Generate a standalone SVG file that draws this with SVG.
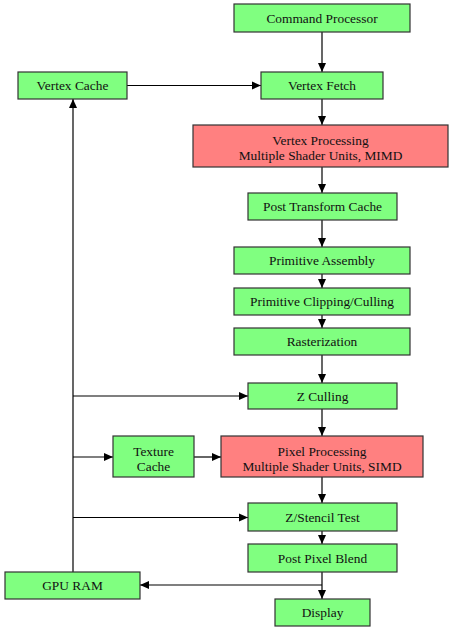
<svg xmlns="http://www.w3.org/2000/svg" width="449" height="629" viewBox="0 0 449 629">
<style>
.g{fill:#80ff80;stroke:#333;stroke-width:1.2}
.r{fill:#ff8080;stroke:#333;stroke-width:1.2}
text{font-family:"Liberation Serif","Times New Roman",serif;font-size:13.4px;fill:#111;text-anchor:middle}
.c{fill:none;stroke:#000;stroke-width:1.2;marker-end:url(#a)}
.l{fill:none;stroke:#000;stroke-width:1.2}
</style>
<defs>
<marker id="a" markerUnits="userSpaceOnUse" markerWidth="10" markerHeight="10" refX="9" refY="5" orient="auto">
<path d="M0,1 L9,5 L0,9 Z" fill="#000"/>
</marker>
</defs>
<g id="connectors">
<path class="c" d="M322,32 V72"/>
<path class="c" d="M127,85.5 H261"/>
<path class="c" d="M322,99 V125"/>
<path class="c" d="M322,167 V193"/>
<path class="c" d="M322,220 V247"/>
<path class="c" d="M322,274 V288"/>
<path class="c" d="M322,315 V328"/>
<path class="c" d="M322,355 V383"/>
<path class="c" d="M322,409 V436"/>
<path class="c" d="M322,477 V503"/>
<path class="c" d="M322,531 V544"/>
<path class="c" d="M322,572 V599"/>
<path class="c" d="M322,585 H140"/>
<path class="c" d="M73,572 V99"/>
<path class="c" d="M73,396 H248"/>
<path class="c" d="M73,457 H113"/>
<path class="c" d="M194,457 H221"/>
<path class="c" d="M73,517.5 H248"/>
</g>
<g id="command-processor"><rect class="g" x="234" y="4" width="176" height="28"/><text x="322" y="22.5">Command Processor</text></g>
<g id="vertex-cache"><rect class="g" x="18" y="72" width="109" height="27"/><text x="72.5" y="90">Vertex Cache</text></g>
<g id="vertex-fetch"><rect class="g" x="261" y="72" width="122" height="27"/><text x="322" y="90">Vertex Fetch</text></g>
<g id="vertex-processing"><rect class="r" x="193" y="125" width="255" height="42"/><text x="320.5" y="144.5">Vertex Processing</text><text x="320.5" y="159.5">Multiple Shader Units, MIMD</text></g>
<g id="post-transform-cache"><rect class="g" x="248" y="193" width="149" height="27"/><text x="322.5" y="211">Post Transform Cache</text></g>
<g id="primitive-assembly"><rect class="g" x="234" y="247" width="176" height="27"/><text x="322" y="265">Primitive Assembly</text></g>
<g id="primitive-clipping"><rect class="g" x="234" y="288" width="176" height="27"/><text x="322" y="306">Primitive Clipping/Culling</text></g>
<g id="rasterization"><rect class="g" x="234" y="328" width="176" height="27"/><text x="322" y="346">Rasterization</text></g>
<g id="z-culling"><rect class="g" x="248" y="383" width="149" height="26"/><text x="322.5" y="400.5">Z Culling</text></g>
<g id="texture-cache"><rect class="g" x="113" y="436" width="81" height="41"/><text x="153.5" y="455.5">Texture</text><text x="153.5" y="470.5">Cache</text></g>
<g id="pixel-processing"><rect class="r" x="221" y="436" width="202" height="41"/><text x="322" y="455.5">Pixel Processing</text><text x="322" y="470.5">Multiple Shader Units, SIMD</text></g>
<g id="z-stencil-test"><rect class="g" x="248" y="503" width="149" height="28"/><text x="322.5" y="522">Z/Stencil Test</text></g>
<g id="post-pixel-blend"><rect class="g" x="248" y="544" width="149" height="28"/><text x="322.5" y="563">Post Pixel Blend</text></g>
<g id="gpu-ram"><rect class="g" x="5" y="572" width="135" height="27"/><text x="72.5" y="590">GPU RAM</text></g>
<g id="display"><rect class="g" x="275" y="599" width="95" height="27"/><text x="322.5" y="617">Display</text></g>
</svg>
